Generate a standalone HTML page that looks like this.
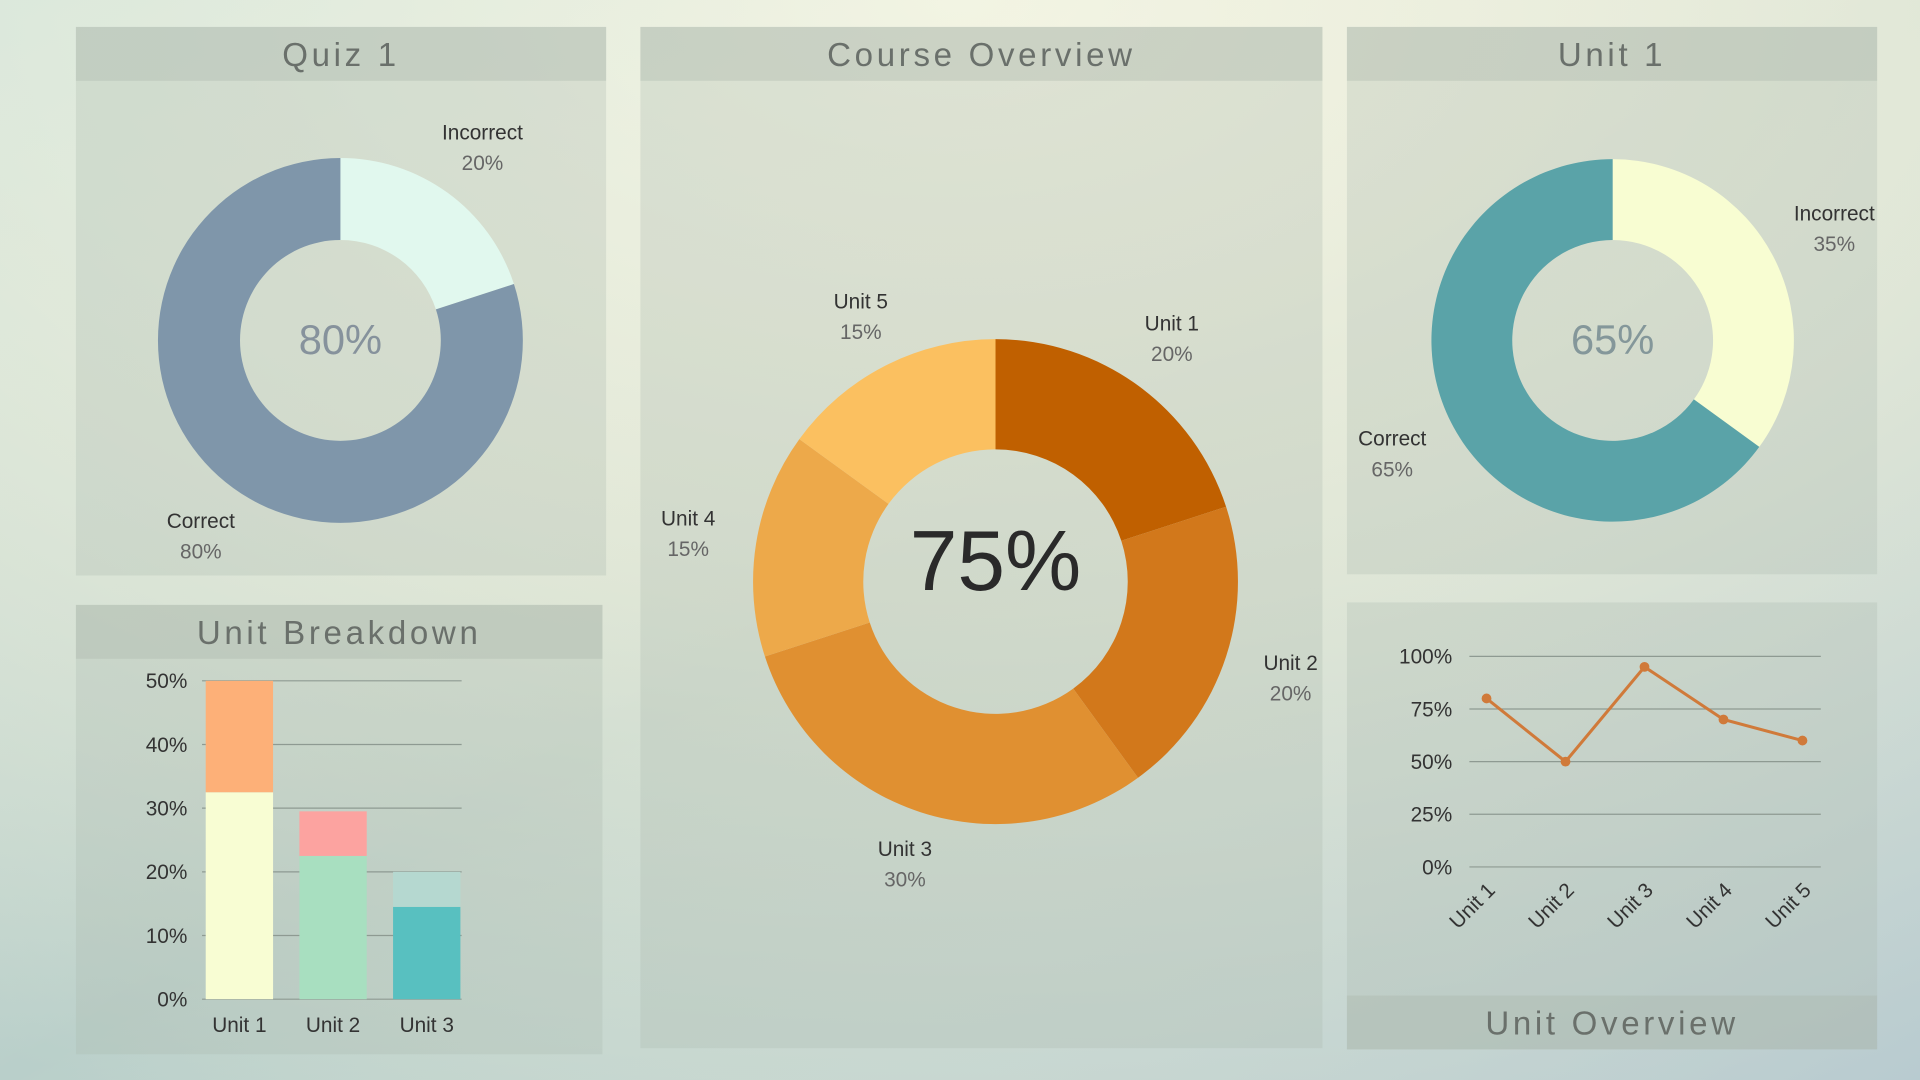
<!DOCTYPE html>
<html><head><meta charset="utf-8">
<style>
html,body{margin:0;padding:0;width:1920px;height:1080px;overflow:hidden;background:#d8e4dc;}
svg{display:block;font-family:"Liberation Sans",sans-serif;}
</style></head>
<body>
<svg id="dash" width="1920" height="1080" viewBox="0 0 1568 882" xmlns="http://www.w3.org/2000/svg">
<defs>
<radialGradient id="bg" cx="0.5" cy="0" r="1.1">
<stop offset="0" stop-color="#f7f6e4"/><stop offset="0.5" stop-color="#dfe6d6"/><stop offset="1" stop-color="#b9cfca"/>
</radialGradient>
<linearGradient id="bg2" x1="0" y1="0" x2="1" y2="1">
<stop offset="0" stop-color="#d8e9df" stop-opacity="0.6"/><stop offset="0.5" stop-color="#f4f4e2" stop-opacity="0"/><stop offset="1" stop-color="#b8c9d2" stop-opacity="0.7"/>
</linearGradient>
</defs>
<rect width="1568" height="882" fill="url(#bg)"/>
<rect width="1568" height="882" fill="url(#bg2)"/>
<g id="panels"></g>
<g id="charts"></g>
</svg>
<script>
// ---- data ----
const quizLabels = ["Incorrect","Correct"];
const quizValues = [20,80];
const courseLabels = ["Unit 1","Unit 2","Unit 3","Unit 4","Unit 5"];
const courseValues = [20,20,30,15,15];
const unit1Labels = ["Incorrect","Correct"];
const unit1Values = [35,65];
const breakdownCats = ["Unit 1","Unit 2","Unit 3"];
const breakdownBase = [32.5,22.5,14.5];
const breakdownTop = [17.5,7,5.5];
const breakdownTicks = ["0%","10%","20%","30%","40%","50%"];
const overviewCats = ["Unit 1","Unit 2","Unit 3","Unit 4","Unit 5"];
const overviewValues = [80,50,95,70,60];
const overviewTicks = ["0%","25%","50%","75%","100%"];

const NS="http://www.w3.org/2000/svg";
function mk(tag,attrs,parent,text){const e=document.createElementNS(NS,tag);for(const k in attrs)e.setAttribute(k,attrs[k]);if(text!==undefined)e.textContent=text;parent.appendChild(e);return e;}
const P=document.getElementById('panels'), C=document.getElementById('charts');

function panel(name,x,y,w,h,title,hy){
  const g=mk('g',{},P);
  
  
  mk('rect',{x:x,y:y,width:w,height:h,fill:'#a9b8ae','fill-opacity':0.28},g);
  mk('rect',{x:x,y:hy,width:w,height:44,fill:'#aab5a8','fill-opacity':0.35},g);
  const t=mk('text',{x:x+w/2,y:hy+32,'text-anchor':'middle','font-size':27,fill:'#6a706b','letter-spacing':3},g,title);
  
  
}
panel('quiz-1-panel',62,22,433,448,'Quiz 1',22);
panel('course-overview-panel',523,22,557,834,'Course Overview',22);
panel('unit-1-panel',1100,22,433,447,'Unit 1',22);
panel('unit-breakdown-panel',62,494,430,367,'Unit Breakdown',494);
panel('unit-overview-panel',1100,492,433,365,'Unit Overview',813);

function donut(name,cx,cy,ro,ri,vals,cols){
  const g=mk('g',{},C);
  
  
  const tot=vals.reduce((a,b)=>a+b,0);let a0=0;
  vals.forEach((v,i)=>{
    const a1=a0+v/tot*Math.PI*2;
    const p=(r,a)=>[cx+r*Math.sin(a),cy-r*Math.cos(a)];
    const L=(a1-a0)>Math.PI?1:0;
    const [x0,y0]=p(ro,a0),[x1,y1]=p(ro,a1),[x2,y2]=p(ri,a1),[x3,y3]=p(ri,a0);
    const s=mk('path',{d:`M${x0},${y0}A${ro},${ro} 0 ${L} 1 ${x1},${y1}L${x2},${y2}A${ri},${ri} 0 ${L} 0 ${x3},${y3}Z`,fill:cols[i]},g);
    
    
    a0=a1;
  });
  return g;
}
function lbl(x,y,name,val,size){
  const t1=mk('text',{x:x,y:y,'text-anchor':'middle','font-size':size||17,fill:'#333'},C,name);
  
  
  const t2=mk('text',{x:x,y:y+25,'text-anchor':'middle','font-size':size||17,fill:'#666'},C,val);
  
  
}
function center(x,y,txt,size,col){
  const t=mk('text',{x:x,y:y,'text-anchor':'middle','font-size':size,fill:col},C,txt);
  
  
}
// Quiz 1
donut('quiz-1-donut',278,278,149,82,quizValues,['#e1f8ee','#7f96aa']);
center(278,289,quizValues[1]+'%',34,'#86929c');
lbl(394,114,quizLabels[0],quizValues[0]+'%');
lbl(164,431,quizLabels[1],quizValues[1]+'%');
// Course
donut('course-donut',813,475,198,108,courseValues,['#c06000','#d2781b','#e09031','#eda94a','#fbc060']);
center(813,482,'75%',70,'#2a2a2a');
const courseLblPos=[[957,270],[1054,547],[739,699],[562,429],[703,252]];
courseLabels.forEach((l,i)=>lbl(courseLblPos[i][0],courseLblPos[i][1],l,courseValues[i]+'%'));
// Unit 1
donut('unit-1-donut',1317,278,148,82,unit1Values,['#f8fdd2','#5aa3a8']);
center(1317,289,unit1Values[1]+'%',34,'#84979a');
lbl(1498,180,unit1Labels[0],unit1Values[0]+'%');
lbl(1137,364,unit1Labels[1],unit1Values[1]+'%');

// Unit breakdown bar chart
(function(){
  const g=mk('g',{},C);
  
  
  const y0=816,y1=556,xL=165,xR=377;
  const ys=v=>y0-(v/50)*(y0-y1);
  breakdownTicks.forEach((t,i)=>{
    const v=i*10,y=ys(v);
    mk('line',{x1:xL,x2:xR,y1:y,y2:y,stroke:'#8e9a92','stroke-width':1},g);
    const tx=mk('text',{x:153,y:y+6,'text-anchor':'end','font-size':17,fill:'#333'},g,t);
    
    
  });
  const bw=55,step=76.5;
  const baseC=['#f8fdd3','#a8dfc0','#58c0c0'],topC=['#fdb078','#fca3a0','#b5d8d0'];
  breakdownCats.forEach((c,i)=>{
    const x=xL+3+i*step;
    const b=mk('rect',{x:x,y:ys(breakdownBase[i]),width:bw,height:y0-ys(breakdownBase[i]),fill:baseC[i]},g);
    
    
    const tv=breakdownBase[i]+breakdownTop[i];
    const t=mk('rect',{x:x,y:ys(tv),width:bw,height:ys(breakdownBase[i])-ys(tv),fill:topC[i]},g);
    
    
    const tx=mk('text',{x:x+bw/2,y:843,'text-anchor':'middle','font-size':17,fill:'#333'},g,c);
    
    
  });
})();

// Unit overview line chart
(function(){
  const g=mk('g',{},C);
  
  
  const y0=708,y1=536,xL=1200,xR=1487;
  const ys=v=>y0-(v/100)*(y0-y1);
  overviewTicks.forEach((t,i)=>{
    const y=ys(i*25);
    mk('line',{x1:xL,x2:xR,y1:y,y2:y,stroke:'#8e9a92','stroke-width':1},g);
    const tx=mk('text',{x:1186,y:y+6,'text-anchor':'end','font-size':17,fill:'#333'},g,t);
    
    
  });
  const xs=i=>1214+64.5*i;
  const pts=overviewValues.map((v,i)=>xs(i)+','+ys(v)).join(' ');
  const ln=mk('polyline',{points:pts,fill:'none',stroke:'#d07a3a','stroke-width':2.5},g);
  
  
  overviewValues.forEach((v,i)=>{
    const c=mk('circle',{cx:xs(i),cy:ys(v),r:4,fill:'#d07a3a'},g);
    
    
    const tx=mk('text',{x:xs(i)+8,y:728,'text-anchor':'end','font-size':17,fill:'#333',transform:`rotate(-45 ${xs(i)+8} 728)`},g,overviewCats[i]);
    
    
  });
})();
</script>
</body></html>
